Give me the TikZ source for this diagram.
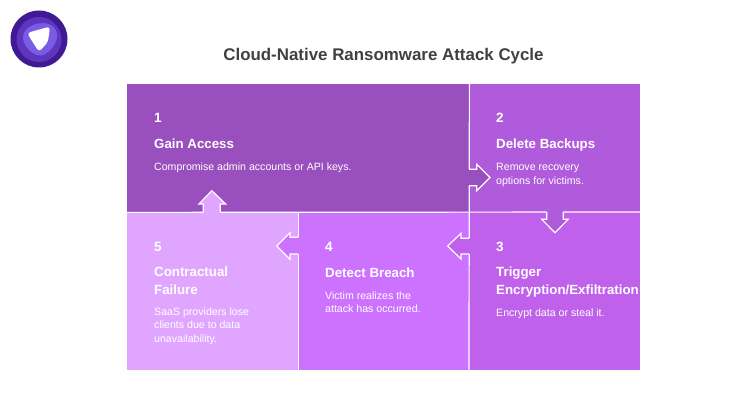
\documentclass[tikz,border=0pt]{standalone}
\usepackage{fontspec}
\setmainfont{Liberation Sans}
\definecolor{cA}{HTML}{9A4FBE}
\definecolor{cB}{HTML}{B05BDC}
\definecolor{cC}{HTML}{C061EC}
\definecolor{cD}{HTML}{CD72FE}
\definecolor{cE}{HTML}{E0A6FF}
\definecolor{logoA}{HTML}{3F1A94}
\definecolor{logoB}{HTML}{5F35BE}
\definecolor{logoC}{HTML}{7A5BE6}
\tikzset{
  panel/.style={draw=none,inner sep=0pt,anchor=north west},
  blockarrow/.style={draw=white,line width=1.2pt,line join=miter},
  seam/.style={draw=white,line width=1.2pt},
  numtxt/.style={text=white,anchor=base west,inner sep=0pt,font=\bfseries\fontsize{13.5}{16}\selectfont},
  headtxt/.style={text=white,anchor=base west,inner sep=0pt,align=left,font=\bfseries\fontsize{13.3}{17.5}\selectfont},
  bodytxt/.style={text=white,anchor=base west,inner sep=0pt,align=left,font=\fontsize{10.6}{13.4}\selectfont},
}
\begin{document}
\begin{tikzpicture}[x=1pt,y=-1pt]
\useasboundingbox (0,0) rectangle (740,420);
% panels
\node[panel,fill=cA,minimum width=342pt,minimum height=128pt] (p1) at (127,84) {};
\node[panel,fill=cB,minimum width=171pt,minimum height=128pt] (p2) at (469,84) {};
\node[panel,fill=cC,minimum width=171pt,minimum height=158pt] (p3) at (469,212) {};
\node[panel,fill=cD,minimum width=171pt,minimum height=158pt] (p4) at (298,212) {};
\node[panel,fill=cE,minimum width=171pt,minimum height=158pt] (p5) at (127,212) {};
% seams
\draw[seam] (p1.south west) -- (p3.north east);
\draw[seam] (p1.north east) -- (p3.south west);
\draw[seam] (p5.north east) -- (p5.south east);
% block arrows: fill runs over the seam, outline stays open at the base
\fill[cE] (203.3,213.5) -- (203.3,204) -- (199,204) -- (211.8,190.7) -- (225.7,204) -- (220.3,204) -- (220.3,213.5) -- cycle;
\path[blockarrow] (203.3,212) -- (203.3,204) -- (199,204) -- (211.8,190.7) -- (225.7,204) -- (220.3,204) -- (220.3,212);
\fill[cD] (299.5,237.3) -- (290,237.3) -- (290,232.7) -- (276.7,246) -- (290,259.3) -- (290,254) -- (299.5,254) -- cycle;
\path[blockarrow] (298,237.3) -- (290,237.3) -- (290,232.7) -- (276.7,246) -- (290,259.3) -- (290,254) -- (298,254);
\fill[cA] (467.5,169.3) -- (476.7,169.3) -- (476.7,164.3) -- (490,177.5) -- (476.7,190.7) -- (476.7,185.7) -- (467.5,185.7) -- cycle;
\path[blockarrow] (469,169.3) -- (476.7,169.3) -- (476.7,164.3) -- (490,177.5) -- (476.7,190.7) -- (476.7,185.7) -- (469,185.7);
\fill[cB] (546.7,210.5) -- (546.7,219.3) -- (541.7,219.3) -- (555,232.7) -- (568.3,219.3) -- (563.3,219.3) -- (563.3,210.5) -- cycle;
\path[blockarrow] (546.7,212) -- (546.7,219.3) -- (541.7,219.3) -- (555,232.7) -- (568.3,219.3) -- (563.3,219.3) -- (563.3,212);
\fill[cC] (470.5,238.3) -- (461,238.3) -- (461,233.3) -- (447.7,246) -- (461,259) -- (461,254) -- (470.5,254) -- cycle;
\path[blockarrow] (469,238.3) -- (461,238.3) -- (461,233.3) -- (447.7,246) -- (461,259) -- (461,254) -- (469,254);
% logo
\fill[logoA] (39,39) circle (28.5);
\fill[logoB] (39,39.5) circle (22.5);
\fill[logoC] (39,23.5) .. controls (50,21.5) and (58,28) .. (57,37) .. controls (56,46) and (47,55.5) .. (40,55.5) .. controls (33,55.5) and (23,46) .. (23,38) .. controls (23,30) and (30,25) .. (39,23.5) -- cycle;
\fill[white,rounded corners=3.5pt] (27,33) -- (50,26.5) -- (48,42) -- (39,52) -- cycle;
% title
\node[inner sep=0pt,anchor=base,text=black!75,font=\bfseries\fontsize{16.9}{20}\selectfont] (title) at (383.5,61) {Cloud-Native Ransomware Attack Cycle};
% text
\node[numtxt] (n1) at (154,122) {1};
\node[headtxt] (h1) at (154,148) {Gain Access};
\node[bodytxt] (b1) at (154,170) {Compromise admin accounts or API keys.};
\node[numtxt] (n2) at (496,122) {2};
\node[headtxt] (h2) at (496,148) {Delete Backups};
\node[bodytxt,anchor=north west] (b2) at (496,163.5) {Remove recovery\\options for victims.};
\node[numtxt] (n3) at (496,251) {3};
\node[headtxt,anchor=north west] (h3) at (496,267) {Trigger\\Encryption/Exfiltration};
\node[bodytxt] (b3) at (496,316) {Encrypt data or steal it.};
\node[numtxt] (n4) at (325,251) {4};
\node[headtxt] (h4) at (325,277) {Detect Breach};
\node[bodytxt,anchor=north west] (b4) at (325,291.5) {Victim realizes the\\attack has occurred.};
\node[numtxt] (n5) at (154,251) {5};
\node[headtxt,anchor=north west] (h5) at (154,267) {Contractual\\Failure};
\node[bodytxt,anchor=north west] (b5) at (154,307.5) {SaaS providers lose\\clients due to data\\unavailability.};
\end{tikzpicture}
\end{document}
